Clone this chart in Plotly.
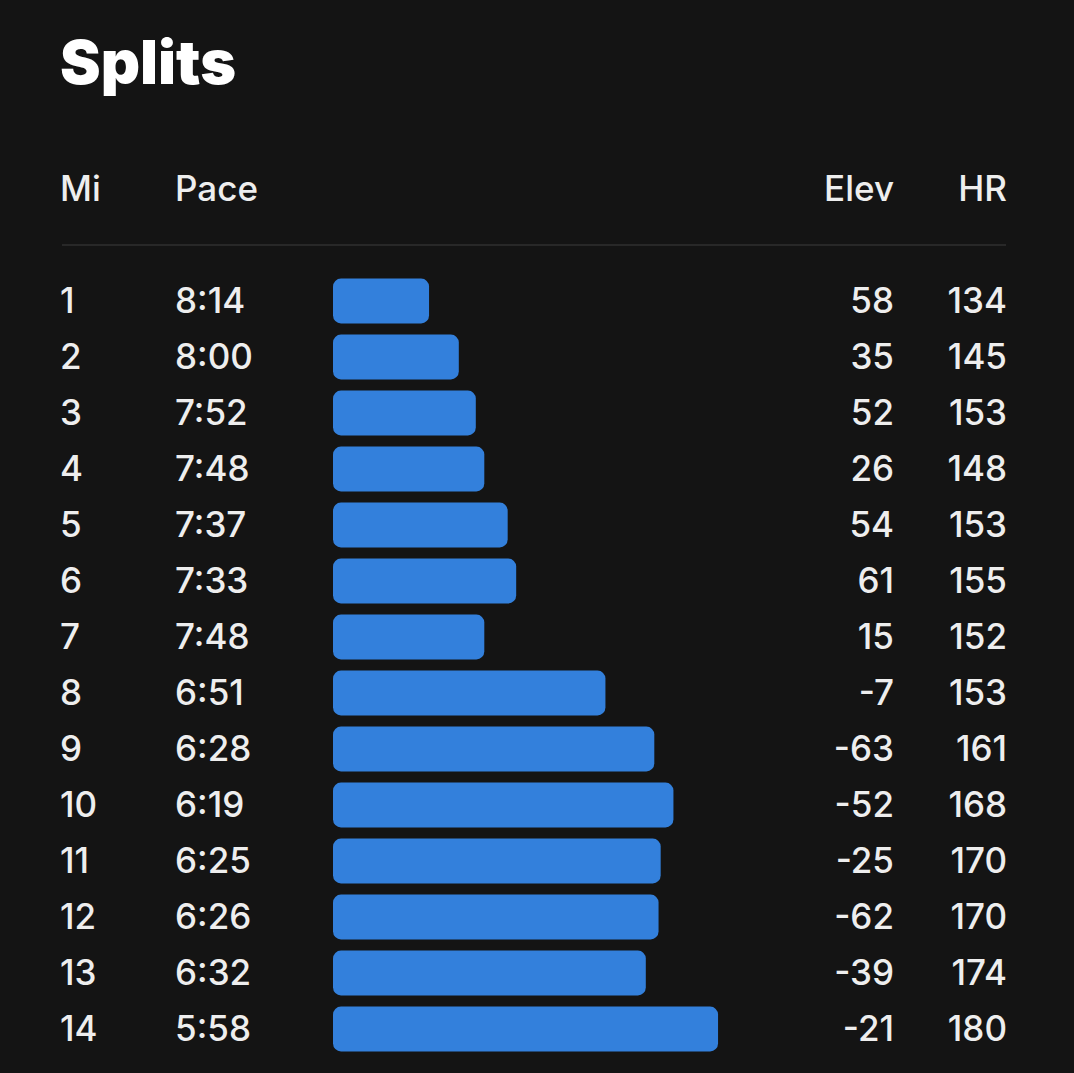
import plotly.graph_objects as go

# split data
miles = list(range(1, 15))
paces = ["8:14", "8:00", "7:52", "7:48", "7:37", "7:33", "7:48",
         "6:51", "6:28", "6:19", "6:25", "6:26", "6:32", "5:58"]
elev = [58, 35, 52, 26, 54, 61, 15, -7, -63, -52, -25, -62, -39, -21]
hr = [134, 145, 153, 148, 153, 155, 152, 153, 161, 168, 170, 170, 174, 180]
headers = ["Mi", "Pace", "Elev", "HR"]

# pace in seconds, bars run from a slow reference pace toward the faster pace
pace_sec = [int(p.split(":")[0]) * 60 + int(p.split(":")[1]) for p in paces]
SLOW = 539.2

BG = "#141414"
TXT = "#eeeeee"
BLUE = "#3380dc"
FONT = "Inter"

fig = go.Figure()

# bars
fig.add_trace(go.Bar(
    y=miles, x=[p - SLOW for p in pace_sec], base=SLOW,
    orientation="h", width=0.8,
    marker=dict(color=BLUE, cornerradius=8, line=dict(width=0)),
    hoverinfo="skip", xaxis="x", yaxis="y"))

def text_col(x, y, labels, pos, size=35, weight=500, color=TXT):
    fig.add_trace(go.Scatter(
        x=[x] * len(labels), y=y, text=[str(v) for v in labels],
        mode="text", textposition=pos,
        textfont=dict(family=FONT, size=size, color=color, weight=weight),
        hoverinfo="skip", xaxis="x2", yaxis="y2"))

# row columns
text_col(60, miles, miles, "middle right")
text_col(175, miles, paces, "middle right")
text_col(894, miles, elev, "middle left")
text_col(1007, miles, hr, "middle left")

# header row
text_col(60, [-1], [headers[0]], "middle right")
text_col(175, [-1], [headers[1]], "middle right")
text_col(894, [-1], [headers[2]], "middle left")
text_col(1007, [-1], [headers[3]], "middle left")

# title
text_col(60, [-3.2], ["Splits"], "middle right", size=61, weight=900, color="#ffffff")

fig.add_shape(type="line", xref="x2", yref="y", x0=62, x1=1006, y0=0, y1=0,
              line=dict(color="#3d3d3d", width=1))

y_rng = [1 + 772 / 56, 1 - 301 / 56]
shift = 3 / 56

fig.update_layout(
    width=1074, height=1073,
    margin=dict(l=0, r=0, t=0, b=0),
    paper_bgcolor=BG, plot_bgcolor="rgba(0,0,0,0)",
    showlegend=False,
    xaxis=dict(domain=[333 / 1074, 1], range=[SLOW, SLOW - 741 / 2.125],
               anchor="y", visible=False, fixedrange=True),
    xaxis2=dict(domain=[0, 1], range=[0, 1074], anchor="y2",
                visible=False, fixedrange=True),
    yaxis=dict(domain=[0, 1], range=y_rng, visible=False, fixedrange=True),
    yaxis2=dict(domain=[0, 1], range=[y_rng[0] - shift, y_rng[1] - shift],
                anchor="x2", visible=False, fixedrange=True),
)

fig.write_html("out.html", config={"displayModeBar": False},
               post_script="document.body.style.margin='0';")
